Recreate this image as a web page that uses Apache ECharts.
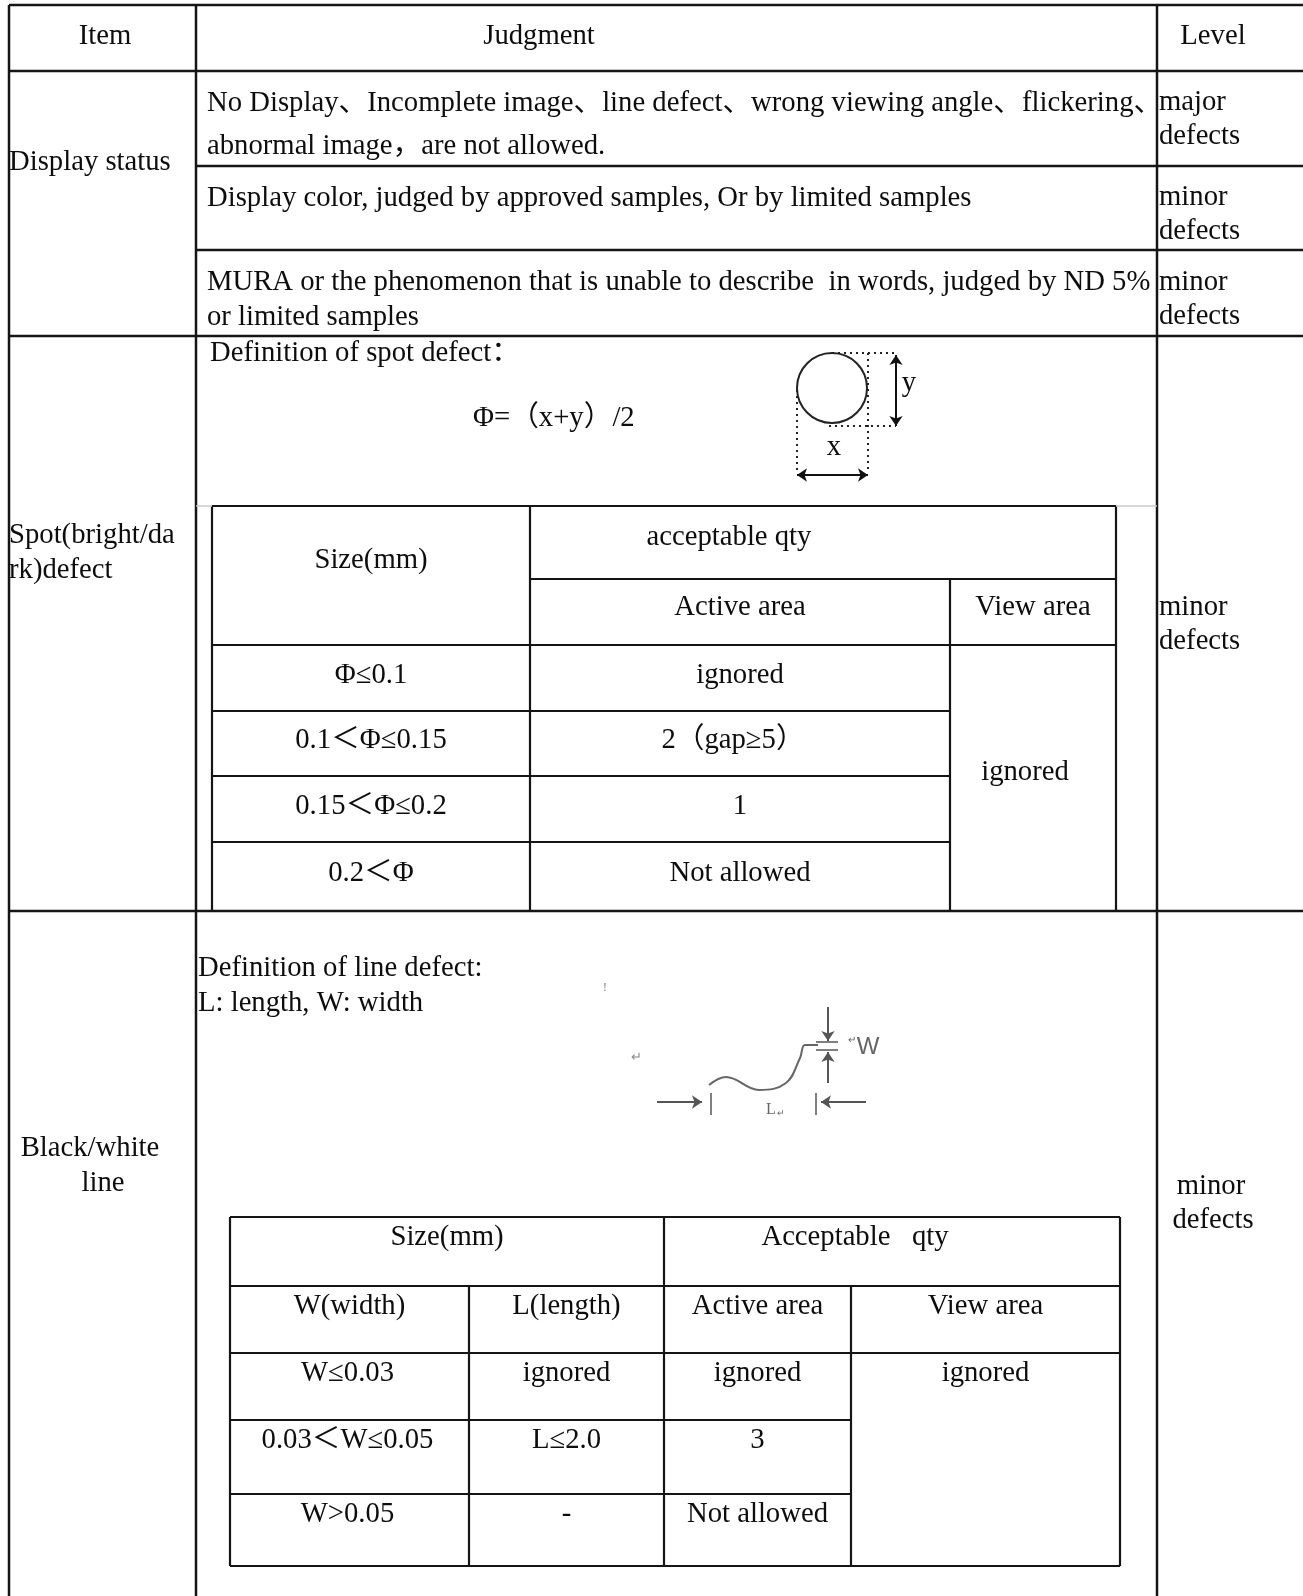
<!DOCTYPE html>
<html>
<head>
<meta charset="utf-8">
<script src="https://cdn.jsdelivr.net/npm/echarts@6/dist/echarts.min.js"></script>
<style>
html,body{margin:0;padding:0;background:#fff;}
#main{width:1303px;height:1596px;}
</style>
</head>
<body>
<div id="main"></div>
<script>
// ---- 表格文字内容 ----
var headerTexts = ['Item', 'Judgment', 'Level'];
var itemNames = [['Display status'], ['Spot(bright/da', 'rk)defect'], ['Black/white', 'line']];
var displayJudgments = [
    ['No Display、Incomplete image、line defect、wrong viewing angle、flickering、', 'abnormal image，are not allowed.'],
    ['Display color, judged by approved samples, Or by limited samples'],
    ['MURA or the phenomenon that is unable to describe  in words, judged by ND 5%', 'or limited samples']
];
var levels = [['major', 'defects'], ['minor', 'defects'], ['minor', 'defects'], ['minor', 'defects'], ['minor', 'defects']];

var spotTitle = 'Definition of spot defect：';
var spotFormula = 'Φ=（x+y）/2';
var spotHead = ['Size(mm)', 'acceptable qty', 'Active area', 'View area'];
var spotSizes = ['Φ≤0.1', '0.1＜Φ≤0.15', '0.15＜Φ≤0.2', '0.2＜Φ'];
var spotActive = ['ignored', '2（gap≥5）', '1', 'Not allowed'];
var spotView = 'ignored';

var lineTitle = ['Definition of line defect:', 'L: length, W: width'];
var lineHead = ['Size(mm)', 'Acceptable   qty', 'W(width)', 'L(length)', 'Active area', 'View area'];
var lineWidths = ['W≤0.03', '0.03＜W≤0.05', 'W>0.05'];
var lineLengths = ['ignored', 'L≤2.0', '-'];
var lineActive = ['ignored', '3', 'Not allowed'];
var lineView = 'ignored';

// 线缺陷示意图里的曲线(读图得到的点)
var lineCurve = [[709, 1085], [726, 1077], [759, 1090], [786, 1083], [800, 1058], [805, 1045], [818, 1045]];

(function(){
    var W = 1303, H = 1596;
    // 表格边界
    var mainCols = [9, 196, 1157];
    var mainRows = [5, 71, 166, 250, 336, 911];
    var spotCols = [212, 530, 950, 1116];
    var spotRows = [506, 579, 645, 711, 776, 842, 911];
    var lineCols = [230, 469, 664, 851, 1120];
    var lineRows = [1217, 1286, 1353, 1420, 1494, 1566];

    // 外框线
    var mainSegs = [];
    mainRows.forEach(function(y, i){
        var x0 = (i === 2 || i === 3) ? mainCols[1] : mainCols[0];
        mainSegs.push([x0, y, W, y]);
    });
    mainCols.forEach(function(x){ mainSegs.push([x, mainRows[0], x, H]); });

    // 内表线
    var innerSegs = [];
    innerSegs.push([spotCols[0], spotRows[0], spotCols[3], spotRows[0]]);
    innerSegs.push([spotCols[1], spotRows[1], spotCols[3], spotRows[1]]);
    innerSegs.push([spotCols[0], spotRows[2], spotCols[3], spotRows[2]]);
    for (var r = 3; r < 6; r++) innerSegs.push([spotCols[0], spotRows[r], spotCols[2], spotRows[r]]);
    innerSegs.push([spotCols[0], spotRows[0], spotCols[0], spotRows[6]]);
    innerSegs.push([spotCols[1], spotRows[0], spotCols[1], spotRows[6]]);
    innerSegs.push([spotCols[2], spotRows[1], spotCols[2], spotRows[6]]);
    innerSegs.push([spotCols[3], spotRows[0], spotCols[3], spotRows[6]]);
    [0, 1, 2, 5].forEach(function(r){ innerSegs.push([lineCols[0], lineRows[r], lineCols[4], lineRows[r]]); });
    [3, 4].forEach(function(r){ innerSegs.push([lineCols[0], lineRows[r], lineCols[3], lineRows[r]]); });
    innerSegs.push([lineCols[0], lineRows[0], lineCols[0], lineRows[5]]);
    innerSegs.push([lineCols[1], lineRows[1], lineCols[1], lineRows[5]]);
    innerSegs.push([lineCols[2], lineRows[0], lineCols[2], lineRows[5]]);
    innerSegs.push([lineCols[3], lineRows[1], lineCols[3], lineRows[5]]);
    innerSegs.push([lineCols[4], lineRows[0], lineCols[4], lineRows[5]]);

    var faintSegs = [[mainCols[1], spotRows[0], spotCols[0], spotRows[0]], [spotCols[3], spotRows[0], mainCols[2], spotRows[0]]];
    // 点缺陷示意图虚线
    var dotSegs = [[832, 353, 896, 353], [868, 353, 868, 470], [797, 390, 797, 470], [829, 426, 896, 426]];
    // 线缺陷示意图短线
    var graySegs = [[711, 1093, 711, 1115], [816, 1093, 816, 1115], [816, 1042, 838, 1042], [816, 1050, 838, 1050]];

    // 文字
    var labels = [];
    function addLabel(text, x, y, opt){
        opt = opt || {};
        labels.push({text: text, x: x, y: y, align: opt.align || 'center', size: opt.size || 28.7,
            color: opt.color || '#0d0d0d', family: opt.family || '"Liberation Serif", "Noto Sans CJK SC", serif'});
    }
    function midX(cols, a, b){ return (cols[a] + cols[b]) / 2; }

    var headX = [105, 539, 1213];
    headerTexts.forEach(function(t, i){ addLabel(t, headX[i], 36); });

    addLabel(itemNames[0][0], 9, 162, {align: 'left'});
    addLabel(itemNames[1][0], 9, 535, {align: 'left'});
    addLabel(itemNames[1][1], 9, 570, {align: 'left'});
    addLabel(itemNames[2][0], 90, 1148);
    addLabel(itemNames[2][1], 103, 1183);

    var judgGap = [43, 0, 35];
    displayJudgments.forEach(function(lines, i){
        lines.forEach(function(t, k){ addLabel(t, 207, mainRows[i + 1] + 32 + k * judgGap[i], {align: 'left'}); });
    });
    var levelY = [102, 197, 282, 607];
    levelY.forEach(function(y, i){
        addLabel(levels[i][0], 1159, y, {align: 'left'});
        addLabel(levels[i][1], 1159, y + 34, {align: 'left'});
    });
    addLabel(levels[4][0], 1211, 1186);
    addLabel(levels[4][1], 1213, 1220);

    // 点缺陷
    addLabel(spotTitle, 210, 353, {align: 'left'});
    addLabel(spotFormula, 473, 418, {align: 'left'});
    addLabel('y', 909, 383);
    addLabel('x', 834, 447);
    addLabel(spotHead[0], midX(spotCols, 0, 1), 560);
    addLabel(spotHead[1], 729, 537);
    addLabel(spotHead[2], midX(spotCols, 1, 2), 607);
    addLabel(spotHead[3], midX(spotCols, 2, 3), 607);
    spotSizes.forEach(function(t, i){
        var y = (spotRows[i + 2] + spotRows[i + 3]) / 2 - 3;
        addLabel(t, midX(spotCols, 0, 1), y);
        addLabel(spotActive[i], midX(spotCols, 1, 2) - (i === 1 ? 7 : 0), y);
    });
    addLabel(spotView, 1025, 772);

    // 线缺陷
    addLabel(lineTitle[0], 198, 968, {align: 'left'});
    addLabel(lineTitle[1], 198, 1003, {align: 'left'});
    var gray = '#666';
    addLabel('!', 605, 988, {size: 13, color: '#888'});
    addLabel('↵', 636, 1058, {size: 13, color: '#888'});
    addLabel('L', 771, 1110, {size: 16, color: gray});
    addLabel('↵', 781, 1114, {size: 9, color: gray});
    addLabel('↵', 852, 1040, {size: 10, color: gray});
    addLabel('W', 868, 1047, {size: 24, color: gray, family: '"Liberation Sans", sans-serif'});

    addLabel(lineHead[0], midX(lineCols, 0, 2), lineRows[0] + 20);
    addLabel(lineHead[1], 855, lineRows[0] + 20);
    for (var c = 0; c < 4; c++) addLabel(lineHead[c + 2], midX(lineCols, c, c + 1), lineRows[1] + 20);
    lineWidths.forEach(function(t, i){
        var y = lineRows[i + 2] + 20;
        addLabel(t, midX(lineCols, 0, 1) - 2, y);
        addLabel(lineLengths[i], midX(lineCols, 1, 2), y);
        addLabel(lineActive[i], midX(lineCols, 2, 3), y);
    });
    addLabel(lineView, midX(lineCols, 3, 4), lineRows[2] + 20);

    function segSeries(segs, stroke, width, dash){
        return {
            type: 'custom', silent: true, animation: false,
            data: segs,
            renderItem: function(params, api){
                var p1 = api.coord([api.value(0), api.value(1)]);
                var p2 = api.coord([api.value(2), api.value(3)]);
                return {type: 'line', shape: {x1: p1[0], y1: p1[1], x2: p2[0], y2: p2[1]},
                    style: {stroke: stroke, lineWidth: width, lineDash: dash || null}};
            }
        };
    }
    function arrowSeries(list, color, symbols){
        return {
            type: 'lines', coordinateSystem: 'cartesian2d', silent: true, animation: false,
            symbol: symbols, symbolSize: 10,
            lineStyle: {color: color, width: 2, opacity: 1},
            data: list.map(function(c){ return {coords: c}; })
        };
    }

    var chart = echarts.init(document.getElementById('main'));
    chart.setOption({
        backgroundColor: '#fff',
        animation: false,
        grid: {left: 0, right: 0, top: 0, bottom: 0},
        xAxis: {type: 'value', min: 0, max: W, show: false},
        yAxis: {type: 'value', min: 0, max: H, inverse: true, show: false},
        series: [
            segSeries(mainSegs, '#151515', 2.5),
            segSeries(innerSegs, '#151515', 2.2),
            segSeries(faintSegs, '#c8c8c8', 1.5),
            segSeries(dotSegs, '#222', 2, [2, 4]),
            segSeries(graySegs, '#555', 1.5),
            {
                type: 'custom', silent: true, animation: false,
                data: [[832, 388, 35, 35]],
                renderItem: function(params, api){
                    var c = api.coord([api.value(0), api.value(1)]);
                    var s = api.size([api.value(2), api.value(3)]);
                    return {type: 'ellipse', shape: {cx: c[0], cy: c[1], rx: s[0], ry: s[1]},
                        style: {stroke: '#222', lineWidth: 2, fill: 'none'}};
                }
            },
            arrowSeries([[[896, 355], [896, 426]], [[797, 475], [868, 475]]], '#111', ['arrow', 'arrow']),
            arrowSeries([[[657, 1102], [702, 1102]], [[866, 1102], [821, 1102]],
                [[828, 1007], [828, 1041]], [[828, 1083], [828, 1052]]], '#555', ['none', 'arrow']),
            {
                type: 'line', silent: true, animation: false, smooth: 0.4, showSymbol: false,
                lineStyle: {color: '#666', width: 2},
                data: lineCurve
            },
            {
                type: 'custom', silent: true, animation: false,
                data: labels.map(function(l){ return [l.x, l.y]; }),
                renderItem: function(params, api){
                    var l = labels[params.dataIndex];
                    var p = api.coord([api.value(0), api.value(1)]);
                    return {type: 'text', style: {text: l.text, x: p[0], y: p[1], fill: l.color,
                        fontSize: l.size, fontFamily: l.family, align: l.align, verticalAlign: 'middle'}};
                }
            }
        ]
    });
})();
</script>
</body>
</html>
